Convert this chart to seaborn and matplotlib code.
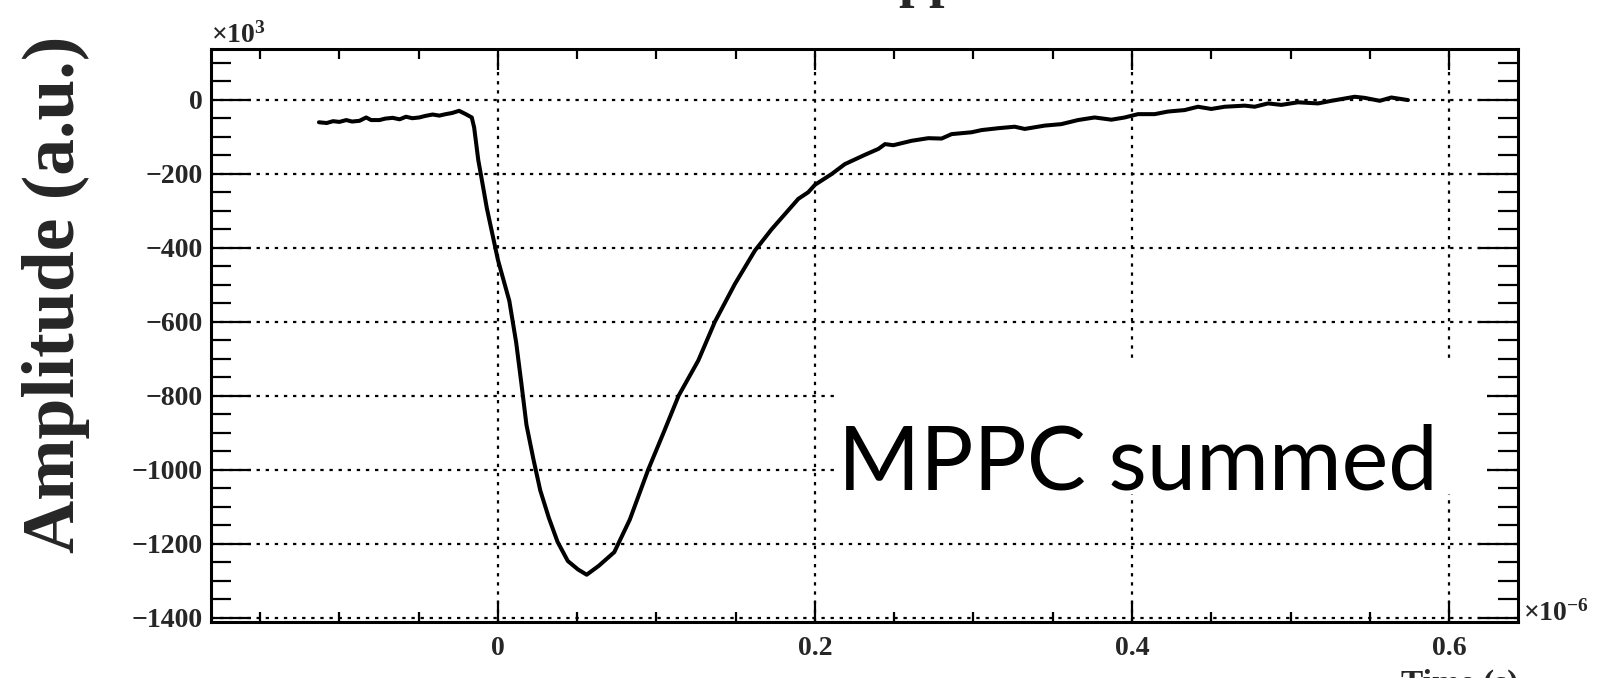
import matplotlib
matplotlib.use("Agg")
import matplotlib.pyplot as plt
import matplotlib.font_manager as fm
import seaborn as sns
import pandas as pd
from matplotlib.ticker import MultipleLocator, FixedLocator, FixedFormatter
from matplotlib.patches import Rectangle

# ---- data (time in units of 1e-6 s, amplitude in units of 1e3 a.u.) ----
time_us = [
    -0.1129, -0.1080, -0.1040, -0.1000, -0.0957, -0.0920, -0.0873, -0.0850,
    -0.0831, -0.0800, -0.0747, -0.0710, -0.0664, -0.0620, -0.0580, -0.0540,
    -0.0496, -0.0460, -0.0412, -0.0370, -0.0329, -0.0290, -0.0245, -0.0203,
    -0.0165, -0.0150, -0.0124, -0.0098, -0.0070, 0.0000, 0.0072, 0.0115,
    0.0148, 0.0180, 0.0224, 0.0267, 0.0321, 0.0376, 0.0441, 0.0506,
    0.0560, 0.0636, 0.0734, 0.0832, 0.0948, 0.1045, 0.1140, 0.1264,
    0.1369, 0.1495, 0.1621, 0.1727, 0.1811, 0.1895, 0.1958, 0.2000,
    0.2105, 0.2189, 0.2315, 0.2400, 0.2442, 0.2494, 0.2610, 0.2715,
    0.2799, 0.2862, 0.2988, 0.3052, 0.3157, 0.3260, 0.3323, 0.3449,
    0.3554, 0.3659, 0.3764, 0.3870, 0.3954, 0.4038, 0.4143, 0.4227,
    0.4332, 0.4416, 0.4500, 0.4585, 0.4711, 0.4774, 0.4858, 0.4942,
    0.5047, 0.5173, 0.5258, 0.5405, 0.5468, 0.5563, 0.5636, 0.5741,
]
amp_k = [
    -61, -63, -58, -60, -55, -59, -57, -52,
    -48, -55, -55, -51, -49, -53, -46, -50,
    -48, -44, -40, -43, -39, -36, -30, -39,
    -48, -75, -163, -225, -293, -433, -544, -656,
    -767, -879, -972, -1056, -1130, -1195, -1247, -1270,
    -1284, -1260, -1223, -1135, -1000, -900, -800, -705,
    -600, -498, -408, -350, -309, -268, -250, -230,
    -201, -174, -149, -133, -120, -123, -111, -104,
    -105, -93, -88, -82, -77, -73, -79, -70,
    -66, -55, -48, -54, -48, -39, -39, -32,
    -28, -19, -25, -19, -16, -19, -10, -14,
    -7, -10, -3, 8, 5, -3, 6, -1,
]

xtick_vals = [0, 0.2, 0.4, 0.6]
xtick_labels = ["0", "0.2", "0.4", "0.6"]
ytick_vals = [0, -200, -400, -600, -800, -1000, -1200, -1400]
ytick_labels = ["0", "\u2212200", "\u2212400", "\u2212600", "\u2212800",
                "\u22121000", "\u22121200", "\u22121400"]

df = pd.DataFrame({"time": time_us, "amp": amp_k})

sns.set_style("ticks")
plt.rcParams["font.family"] = ["Liberation Serif", "DejaVu Serif"]
plt.rcParams["font.weight"] = "bold"
plt.rcParams["mathtext.fontset"] = "custom"
plt.rcParams["mathtext.rm"] = "Liberation Serif:bold"
plt.rcParams["mathtext.bf"] = "Liberation Serif:bold"
plt.rcParams["mathtext.it"] = "Liberation Serif:italic:bold"

label_prop = fm.FontProperties(family="Lato", weight="normal")

W, H = 1614, 678
fig = plt.figure(figsize=(W / 100, H / 100), dpi=100)
L, R, T, B = 211, 1518, 49.4, 621.7
ax = fig.add_axes([L / W, 1 - B / H, (R - L) / W, (B - T) / H])

sns.lineplot(data=df, x="time", y="amp", ax=ax, color="black", linewidth=2.9,
             sort=False, estimator=None, zorder=3)

ax.set_xlim(-0.181, 0.6435)
ax.set_ylim(-1411, 136)

ax.xaxis.set_major_locator(FixedLocator(xtick_vals))
ax.xaxis.set_major_formatter(FixedFormatter(xtick_labels))
ax.xaxis.set_minor_locator(MultipleLocator(0.05))
ax.yaxis.set_major_locator(FixedLocator(ytick_vals))
ax.yaxis.set_major_formatter(FixedFormatter(ytick_labels))
ax.yaxis.set_minor_locator(MultipleLocator(50))

ax.tick_params(axis="both", which="both", direction="in", top=True, right=True,
               width=1.6, color="black")
ax.tick_params(axis="x", which="major", length=15, pad=10, labelsize=20)
ax.tick_params(axis="x", which="minor", length=7)
ax.tick_params(axis="y", which="major", length=29, pad=6, labelsize=20)
ax.tick_params(axis="y", which="minor", length=14.5)
for lab in ax.get_xticklabels() + ax.get_yticklabels():
    lab.set_fontweight("bold")

for sp in ax.spines.values():
    sp.set_linewidth(2.2)
    sp.set_color("black")

ax.set_axisbelow(True)
ax.grid(True, which="major", color="black", linestyle=(0, (1.5, 2.6)),
        linewidth=1.6)

ax.set_xlabel("")
ax.set_ylabel("")

# white background of the "MPPC summed" label
ax.add_patch(Rectangle((0.214, -1066), 0.41, 357, facecolor="white",
                       edgecolor="none", zorder=1.5))

cx = 1138.0
big = fig.text(cx / W, 1 - 489 / H, "MPPC summed", fontproperties=label_prop,
               fontsize=80, ha="center", va="baseline", color="black")
# fit the label to about the width it takes in the reference
renderer = fig.canvas.get_renderer()
w = big.get_window_extent(renderer).width
big.set_fontsize(80 * 600.0 / w)

fig.text(0.035, 1 - 36 / H, "Amplitude (a.u.)", rotation=90, ha="center",
         va="top", fontsize=53, fontweight="bold")

fig.text(L / W, 1 - 43 / H, "\u00d710$^{3}$", ha="left", va="baseline",
         fontsize=20, fontweight="bold")
fig.text(1523 / W, 1 - 621 / H, "\u00d710$^{-6}$", ha="left", va="baseline",
         fontsize=20, fontweight="bold")
fig.text(R / W, 1 - 669 / H, "Time (s)", ha="right", va="top",
         fontsize=24, fontweight="bold")
# title, mostly outside the canvas (only descenders visible)
fig.text(898 / W, 1 + 4 / H, "pp", ha="left", va="baseline",
         fontsize=40, fontweight="bold")

fig.savefig("out.png", dpi=100)
